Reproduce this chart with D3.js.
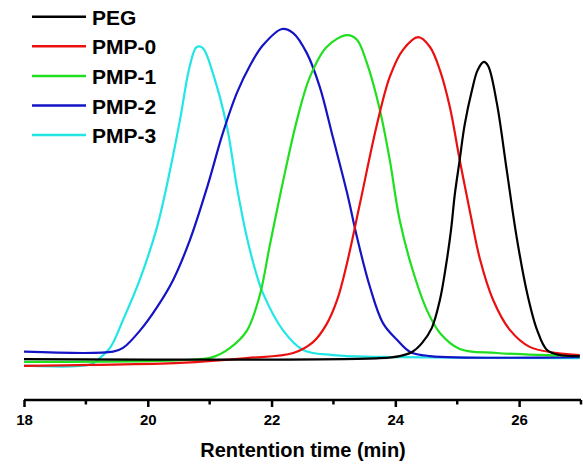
<!DOCTYPE html>
<html>
<head>
<meta charset="utf-8">
<script src="https://cdn.jsdelivr.net/npm/d3@7"></script>
<style>
  body { margin: 0; background: #fff; }
  svg { display: block; font-family: "Liberation Sans", Arial, sans-serif; }
</style>
</head>
<body>
<svg id="chart" width="583" height="468"></svg>
<script>
// series names and colours
const names = ["PEG", "PMP-0", "PMP-1", "PMP-2", "PMP-3"]
const colors = ["#000000", "#ea1010", "#1fdf1f", "#1414c4", "#22e6e6"]

// retention time (min) and detector signal (a.u.)
const pegTime = [18, 23.75, 24.07, 24.27, 24.43, 24.59, 24.72, 24.82, 24.90, 24.96, 25.04, 25.12, 25.24, 25.33, 25.43, 25.50, 25.64, 25.80, 25.96, 26.13, 26.29, 26.45, 26.66, 26.98]
const pegSignal = [3.2, 3.5, 4.1, 5.3, 7.9, 12.4, 20.6, 30.9, 41.2, 51.5, 61.8, 72.1, 82.4, 88.2, 90.6, 89.4, 78.5, 58.8, 39.1, 22.6, 11.8, 5.9, 4.4, 4.1]

const pmp0Time = [18, 19.07, 20.52, 21.60, 22.35, 22.67, 22.89, 23.06, 23.22, 23.43, 23.70, 23.91, 24.12, 24.37, 24.56, 24.72, 24.88, 25.04, 25.21, 25.37, 25.58, 25.85, 26.17, 26.61, 26.98]
const pmp0Signal = [1.2, 1.5, 2.1, 3.5, 5.0, 8.2, 13.5, 20.6, 31.5, 49.1, 72.0, 86.2, 94.1, 97.9, 95.0, 88.2, 77.4, 61.8, 46.2, 32.4, 20.6, 11.8, 6.8, 5.0, 4.4]

const pmp1Time = [18, 20.52, 21.05, 21.33, 21.60, 21.81, 21.97, 22.18, 22.41, 22.62, 22.89, 23.22, 23.38, 23.54, 23.75, 23.91, 24.07, 24.28, 24.51, 24.72, 25.04, 25.64, 26.98]
const pmp1Signal = [2.4, 2.9, 3.8, 6.5, 11.5, 22.0, 36.5, 55.0, 73.5, 86.2, 95.0, 98.5, 97.1, 90.3, 76.5, 61.8, 44.1, 29.4, 17.6, 10.9, 6.2, 5.0, 4.1]

const pmp2Time = [18, 19.44, 19.60, 19.87, 20.15, 20.41, 20.68, 20.96, 21.21, 21.44, 21.65, 21.86, 22.17, 22.35, 22.57, 22.78, 22.99, 23.22, 23.38, 23.59, 23.80, 24.03, 24.24, 24.56, 26.98]
const pmp2Signal = [5.4, 5.4, 6.5, 11.5, 18.5, 26.5, 38.2, 53.8, 69.5, 81.5, 89.5, 95.5, 100.3, 99.1, 93.2, 83.2, 68.5, 52.1, 39.1, 24.4, 13.8, 8.8, 5.3, 4.1, 3.8]

const pmp3Time = [18, 19.07, 19.23, 19.39, 19.60, 19.87, 20.15, 20.36, 20.52, 20.68, 20.79, 20.89, 21.05, 21.28, 21.44, 21.60, 21.76, 21.86, 22.18, 22.51, 22.99, 24.07, 26.98]
const pmp3Signal = [1.3, 1.6, 3.6, 6.5, 14.7, 26.5, 42.1, 58.8, 73.5, 89.5, 95.0, 94.7, 87.4, 71.5, 53.8, 39.1, 27.9, 22.6, 11.8, 5.9, 4.4, 3.8, 3.5]

const xTicks = [18, 20, 22, 24, 26]
const xMinor = [19, 21, 23, 25, 27]

const series = [
  [pegTime, pegSignal],
  [pmp0Time, pmp0Signal],
  [pmp1Time, pmp1Signal],
  [pmp2Time, pmp2Signal],
  [pmp3Time, pmp3Signal]
].map((s, i) => ({ name: names[i], color: colors[i], values: s[0].map((t, j) => ({ t: t, v: s[1][j] })) }))

const svg = d3.select("#chart")
const axisY = 400

const x = d3.scaleLinear().domain([18, 27]).range([24, 581])
const y = d3.scaleLinear().domain([0, 100]).range([370, 30])

const line = d3.line()
  .x(d => x(d.t))
  .y(d => y(d.v))
  .curve(d3.curveCatmullRom.alpha(0.5))

// draw in reverse so PEG ends up on top
svg.append("g").selectAll("path")
  .data(series.slice().reverse())
  .join("path")
  .attr("d", d => line(d.values))
  .attr("fill", "none")
  .attr("stroke", d => d.color)
  .attr("stroke-width", 2.2)
  .attr("stroke-linejoin", "round")

// bottom axis: major ticks with labels, minor ticks without
const axis = svg.append("g").attr("transform", `translate(0,${axisY})`)
axis.call(d3.axisBottom(x).tickValues(xTicks).tickSize(7).tickPadding(7).tickSizeOuter(0))
axis.select(".domain").attr("stroke", "#000").attr("stroke-width", 2.5)
  .attr("d", `M${x(18)},0H${x(27)}`)
axis.selectAll(".tick line").attr("stroke-width", 2.5)
axis.selectAll(".tick text")
  .attr("font-size", 15)
  .attr("font-weight", "bold")
  .attr("font-family", "Liberation Sans, Arial, sans-serif")
  .attr("fill", "#000")

axis.selectAll(".minor")
  .data(xMinor)
  .join("line")
  .attr("class", "minor")
  .attr("x1", d => x(d)).attr("x2", d => x(d))
  .attr("y1", 0).attr("y2", 4.5)
  .attr("stroke", "#000")
  .attr("stroke-width", 2.5)

svg.append("text")
  .attr("x", 303)
  .attr("y", 457)
  .attr("text-anchor", "middle")
  .attr("font-size", 20)
  .attr("font-weight", "bold")
  .text("Rentention time (min)")

// legend
const legend = svg.append("g")
series.forEach((s, i) => {
  const ly = 16.7 + i * 29.6
  legend.append("line")
    .attr("x1", 32).attr("x2", 86)
    .attr("y1", ly).attr("y2", ly)
    .attr("stroke", s.color)
    .attr("stroke-width", 2.5)
  legend.append("text")
    .attr("x", 92)
    .attr("y", ly + 8)
    .attr("font-size", 21)
    .attr("font-weight", "bold")
    .text(s.name)
})
</script>
</body>
</html>
